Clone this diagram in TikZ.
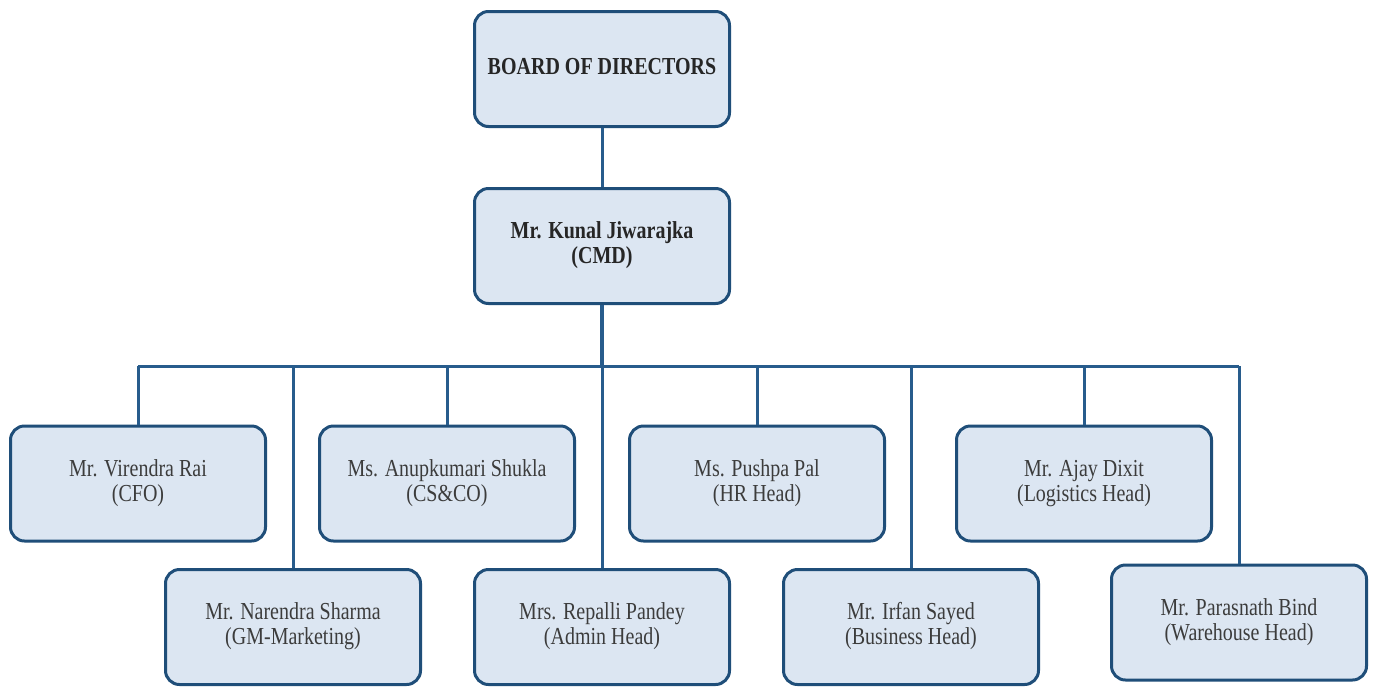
\documentclass[tikz,border=0pt]{standalone}
\usepackage{graphicx}
\usepackage{fontspec}
\setmainfont{Liberation Serif}
\newcommand\tx[1]{\scalebox{1}[1.22]{\begin{tabular}{@{}c@{}}#1\end{tabular}}}
\begin{document}
\begin{tikzpicture}[x=1pt,y=-1pt,
  box/.style={draw=boxline, fill=boxfill, line width=3pt, rounded corners=14pt,
    minimum width=255pt, minimum height=115pt, align=center, inner sep=0pt,
    font=\fontsize{20}{20.5}\selectfont, text=txt},
  topbox/.style={box, font=\fontsize{20}{20.5}\selectfont\bfseries, text=black!85},
  conn/.style={draw=connline, line width=3pt},
  trunk/.style={draw=connline, line width=4pt}]
\definecolor{boxline}{RGB}{31,78,121}
\definecolor{boxfill}{RGB}{220,230,242}
\definecolor{connline}{RGB}{40,92,140}
\definecolor{txt}{RGB}{60,60,60}
\useasboundingbox (0,0) rectangle (1375,686);
\fill[white] (0,0) rectangle (1375,686);
% top
\node[topbox] (bod) at (602,69) {\tx{BOARD OF DIRECTORS}};
\node[topbox] (cmd) at (602,246) {\tx{Mr. Kunal Jiwarajka\\(CMD)}};
% row 1
\node[box] (cfo) at (138,483.5) {\tx{Mr. Virendra Rai\\(CFO)}};
\node[box] (cs) at (447,483.5) {\tx{Ms. Anupkumari Shukla\\(CS\&CO)}};
\node[box] (hr) at (757,483.5) {\tx{Ms. Pushpa Pal\\(HR Head)}};
\node[box] (log) at (1084,483.5) {\tx{Mr. Ajay Dixit\\(Logistics Head)}};
% row 2
\node[box] (gm) at (293,627) {\tx{Mr. Narendra Sharma\\(GM-Marketing)}};
\node[box] (adm) at (602,627) {\tx{Mrs. Repalli Pandey\\(Admin Head)}};
\node[box] (bus) at (911,627) {\tx{Mr. Irfan Sayed\\(Business Head)}};
\node[box] (wh) at (1239,622.5) {\tx{Mr. Parasnath Bind\\(Warehouse Head)}};
% bar
\coordinate (barL) at (138,366);
\coordinate (barR) at (1239,366);
\draw[conn] (bod.south) -- (cmd.north);
\draw[trunk] (cmd.south) -- (cmd.south |- barL);
\draw[conn] (barL) -- (barR);
\foreach \n in {cfo,cs,hr,log,gm,adm,bus,wh}{
  \draw[conn] (\n.north) -- (\n.north |- barL);
}
\end{tikzpicture}
\end{document}
